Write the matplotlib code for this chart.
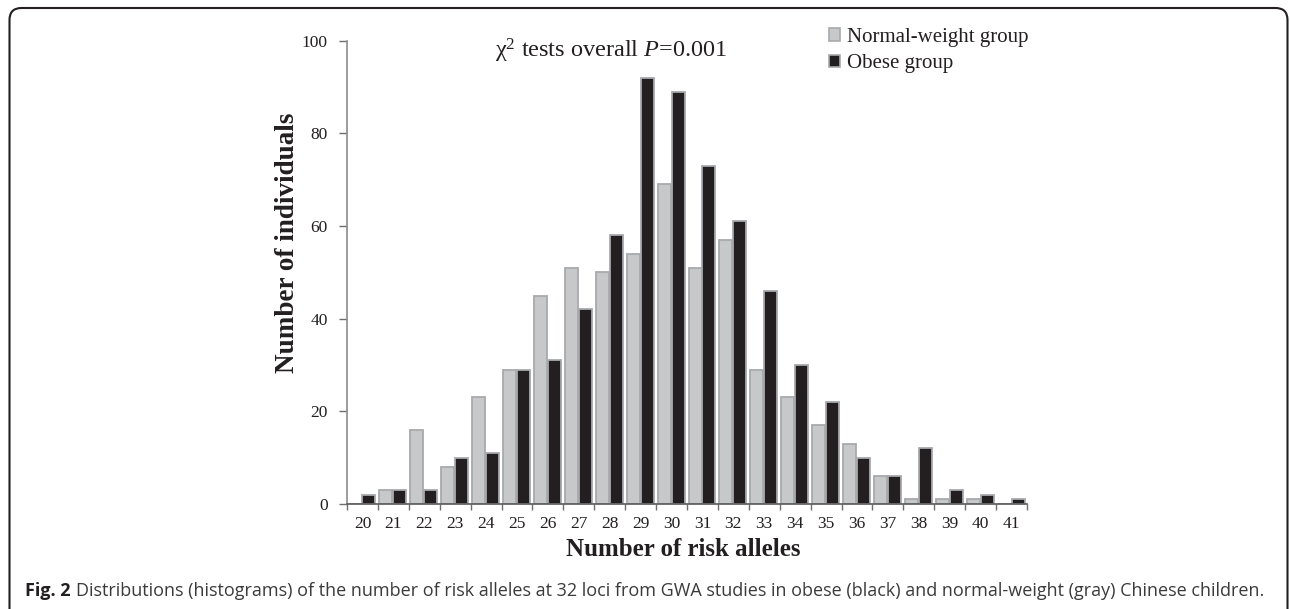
import matplotlib
matplotlib.use('Agg')
from matplotlib import pyplot as plt
from matplotlib.patches import FancyBboxPatch, Patch
from matplotlib.transforms import IdentityTransform
import numpy as np

# number of risk alleles and counts per group
alleles = [20, 21, 22, 23, 24, 25, 26, 27, 28, 29, 30,
           31, 32, 33, 34, 35, 36, 37, 38, 39, 40, 41]
normal_weight = [0, 3, 16, 8, 23, 29, 45, 51, 50, 54, 69,
                 51, 57, 29, 23, 17, 13, 6, 1, 1, 1, 0]
obese = [2, 3, 3, 10, 11, 29, 31, 42, 58, 92, 89,
         73, 61, 46, 30, 22, 10, 6, 12, 3, 2, 1]

gray_fill = '#c7c8ca'
black_fill = '#231f20'
edge = '#a7a9ac'
text_col = '#231f20'

plt.rcParams['font.family'] = ['Liberation Serif', 'DejaVu Serif']
plt.rcParams['mathtext.fontset'] = 'custom'
plt.rcParams['mathtext.rm'] = 'Liberation Serif'
plt.rcParams['mathtext.it'] = 'Liberation Serif:italic'

fig = plt.figure(figsize=(12.9, 6.09), dpi=100)
ax = fig.add_axes([347 / 1290, 105 / 609, 680 / 1290, 463.3 / 609])

x = np.arange(len(alleles))
w = 0.42
ax.bar(x - 0.24, normal_weight, width=w, color=gray_fill, edgecolor=edge,
       linewidth=1.3, label='Normal-weight group')
ax.bar(x + 0.21, obese, width=w, color=black_fill, edgecolor=edge,
       linewidth=1.3, label='Obese group')

ax.set_xlim(-0.5, len(alleles) - 0.5)
ax.set_ylim(0, 100)
ax.set_yticks(np.arange(0, 101, 20))
ax.set_xticks(x)
ax.set_xticklabels([str(a) for a in alleles])
ax.set_xticks(np.arange(-0.5, len(alleles), 1), minor=True)

ax.tick_params(axis='x', which='major', length=0, pad=9, labelsize=12.5,
               labelcolor=text_col)
ax.tick_params(axis='x', which='minor', length=4, width=1, color='#6d6e71',
               direction='out')
ax.tick_params(axis='y', length=6, width=1, color='#6d6e71', direction='out',
               pad=8, labelsize=12.5, labelcolor=text_col)

for side in ['top', 'right']:
    ax.spines[side].set_visible(False)
ax.spines['left'].set_color('#8a8c8e')
ax.spines['left'].set_linewidth(1.2)
ax.spines['bottom'].set_color('#58595b')
ax.spines['bottom'].set_linewidth(1.2)

ax.set_ylabel('Number of individuals', fontsize=19.5, fontweight='bold',
              color=text_col)
ax.yaxis.set_label_coords(288 / 1290, (609 - 243) / 609,
                          transform=fig.transFigure)
ax.set_xlabel('Number of risk alleles', fontsize=18, fontweight='bold',
              color=text_col)
ax.xaxis.set_label_coords(683 / 1290, (609 - 549) / 609,
                          transform=fig.transFigure)
ax.xaxis.label.set_va('center')
ax.yaxis.label.set_va('center')

fig.text(611 / 1290, (609 - 51) / 609,
         r'$\mathrm{\chi}^{2}$ tests overall $P$=0.001',
         fontsize=17.5, color=text_col, ha='center', va='center')

handles = [Patch(facecolor=gray_fill, edgecolor=edge, linewidth=1.2),
           Patch(facecolor=black_fill, edgecolor=edge, linewidth=1.2)]
ax.legend(handles, ['Normal-weight group', 'Obese group'],
          loc='upper left', bbox_to_anchor=(829 / 1290, (609 - 28) / 609),
          bbox_transform=fig.transFigure, frameon=False, fontsize=15,
          handlelength=0.55, handleheight=0.55, handletextpad=0.3,
          labelspacing=0.35, borderpad=0, borderaxespad=0,
          labelcolor=text_col)

# rounded frame round the figure panel
frame = FancyBboxPatch((9.5, -30), 1278, 609 - 8 + 30,
                       boxstyle='round,pad=0,rounding_size=12',
                       transform=IdentityTransform(), fill=False,
                       edgecolor='#231f20', linewidth=1.5)
fig.patches.append(frame)

# caption
renderer = fig.canvas.get_renderer()
cap_y = (609 - 591) / 609
t1 = fig.text(25 / 1290, cap_y, 'Fig. 2', family='Open Sans',
              fontweight='bold', fontsize=13, color=text_col, va='center')
bb = t1.get_window_extent(renderer)
fig.text((bb.x1 + 5) / 1290, cap_y,
         'Distributions (histograms) of the number of risk alleles at 32 loci '
         'from GWA studies in obese (black) and normal-weight (gray) '
         'Chinese children.',
         family='Open Sans', fontsize=13, color='#3b3b3b', va='center')

fig.savefig('out.png', dpi=100)
